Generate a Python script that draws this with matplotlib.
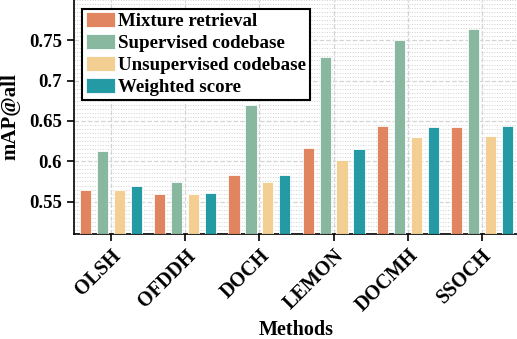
import numpy as np
import matplotlib
matplotlib.use('Agg')
import matplotlib.pyplot as plt
from matplotlib.ticker import MultipleLocator

plt.rcParams['font.family'] = ['Liberation Serif', 'DejaVu Serif']
plt.rcParams['font.weight'] = 'bold'

methods = ['OLSH', 'OFDDH', 'DOCH', 'LEMON', 'DOCMH', 'SSOCH']
series = ['Mixture retrieval', 'Supervised codebase', 'Unsupervised codebase', 'Weighted score']
mixture = [0.565, 0.560, 0.583, 0.616, 0.644, 0.643]
supervised = [0.613, 0.574, 0.670, 0.729, 0.750, 0.764]
unsupervised = [0.564, 0.559, 0.574, 0.602, 0.630, 0.631]
weighted = [0.569, 0.561, 0.583, 0.615, 0.642, 0.644]
colors = ['#E07F58', '#82B59B', '#F3CD8E', '#18969F']

values = [mixture, supervised, unsupervised, weighted]
x = np.arange(len(methods))
w = 0.15
step = 0.228

fig = plt.figure(figsize=(5.17, 3.39), dpi=100)
ax = fig.add_axes([0.143, 0.31, 0.861, 0.69])

for i in range(4):
    ax.bar(x + (i - 1.5) * step, values[i], w, color=colors[i], alpha=0.95,
           edgecolor='white', linewidth=0.6, label=series[i], zorder=3)

ax.set_xlim(-0.5, 5.5)
ax.set_ylim(0.51, 0.8)
ax.set_yticks([0.55, 0.6, 0.65, 0.7, 0.75])
ax.set_yticklabels(['0.55', '0.6', '0.65', '0.7', '0.75'])
ax.yaxis.set_minor_locator(MultipleLocator(0.005))
ax.set_xticks(x)
ax.set_xticklabels(methods, rotation=45, ha='right', va='top', rotation_mode='anchor')

ax.grid(which='major', linestyle='--', color='#d4d4d4', linewidth=0.9, zorder=0)
ax.grid(which='minor', axis='y', linestyle=':', color='#d0d0d0', linewidth=0.7, zorder=0)
ax.tick_params(axis='y', which='major', labelsize=13.5, direction='out', length=5, width=1.2)
ax.tick_params(axis='x', which='major', labelsize=14.5, direction='out', length=5, width=1.2)
ax.tick_params(axis='y', which='minor', length=0)
for s in ['top', 'right']:
    ax.spines[s].set_visible(False)
for s in ['left', 'bottom']:
    ax.spines[s].set_linewidth(1.2)

ax.set_ylabel('mAP@all', fontsize=15, fontweight='bold', labelpad=6)
ax.set_xlabel('Methods', fontsize=14.5, fontweight='bold', labelpad=3)

leg = ax.legend(loc='upper left', bbox_to_anchor=(0.018, 0.963), borderaxespad=0,
                fontsize=13.6, frameon=True, fancybox=False, handlelength=1.55,
                handleheight=0.8, labelspacing=0.22, borderpad=0.2, handletextpad=0.15)
leg.get_frame().set_edgecolor('black')
leg.get_frame().set_linewidth(1.5)
leg.get_frame().set_alpha(1)

fig.savefig('out.png', dpi=100)
